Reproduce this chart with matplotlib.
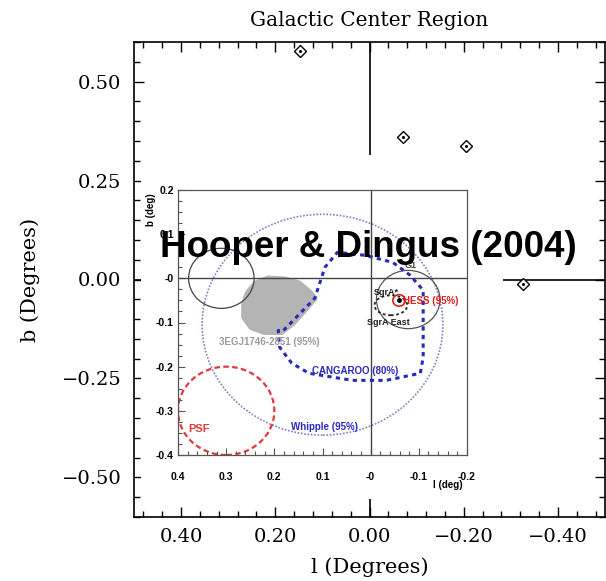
import numpy as np
import matplotlib.pyplot as plt
from matplotlib.patches import Circle, Ellipse, Polygon
from matplotlib.ticker import MultipleLocator, FixedLocator, FixedFormatter

# outer plot: diamond sources (galactic l, b in degrees)
src_l = [0.148, -0.072, -0.204, -0.325]
src_b = [0.578, 0.360, 0.337, -0.011]

# inset tick labels (as printed on the embedded figure)
inset_xticks = [0.4, 0.3, 0.2, 0.1, 0.0, -0.1, -0.2]
inset_xlabels = ["0.4", "0.3", "0.2", "0.1", "-0", "-0.1", "-0.2"]
inset_yticks = [0.2, 0.1, 0.0, -0.1, -0.2, -0.3, -0.4]
inset_ylabels = ["0.2", "0.1", "-0", "-0.1", "-0.2", "-0.3", "-0.4"]

# CANGAROO 80% contour
cang_l = [0.181, 0.116, 0.095, 0.069, 0.011, -0.046, -0.082, -0.109, -0.109,
          -0.109, -0.103, -0.032, 0.038, 0.128, 0.164, 0.189, 0.192, 0.181]
cang_b = [-0.118, -0.045, 0.025, 0.059, 0.052, 0.036, 0.007, -0.027, -0.118,
          -0.179, -0.215, -0.231, -0.231, -0.215, -0.192, -0.156, -0.118, -0.118]

# EGRET 3EG J1746-2851 95% region
egret_l = [0.238, 0.213, 0.179, 0.149, 0.126, 0.116, 0.137, 0.160, 0.185,
           0.221, 0.248, 0.263, 0.263, 0.255]
egret_b = [-0.011, 0.0, -0.002, -0.011, -0.032, -0.045, -0.072, -0.100, -0.122,
           -0.122, -0.111, -0.088, -0.057, -0.032]

# circles: (l, b, radius)
whipple = (0.100, -0.105, 0.250)
psf = (0.300, -0.300, 0.100)
left_src = (0.310, 0.000, 0.068)
g1 = (-0.078, -0.048, 0.066)
hess = (-0.059, -0.050, 0.013)
sgra_east = (-0.042, -0.061, 0.068, 0.045)  # l, b, width, height

W, H = 606, 581
fig = plt.figure(figsize=(W / 100, H / 100), dpi=100)

def fbox(x0, y0, x1, y1):
    # pixel box -> figure fraction [left, bottom, width, height]
    return [x0 / W, 1 - y1 / H, (x1 - x0) / W, (y1 - y0) / H]

serif = "DejaVu Serif"

# ---- outer axes ----
ax = fig.add_axes(fbox(134, 42, 605, 517))
ax.set_xlim(0.5, -0.5)
ax.set_ylim(-0.6, 0.6)
ax.axvline(0, color="black", lw=1.2)
ax.axhline(0, color="black", lw=1.2)
ax.plot(src_l, src_b, ls="none", marker="D", ms=6.5, mfc="white", mec="black", mew=1)
ax.plot(src_l, src_b, ls="none", marker="o", ms=1.2, color="black")

ax.xaxis.set_major_locator(FixedLocator([0.4, 0.2, 0.0, -0.2, -0.4]))
ax.xaxis.set_minor_locator(MultipleLocator(0.04))
ax.yaxis.set_major_locator(FixedLocator([0.5, 0.25, 0.0, -0.25, -0.5]))
ax.yaxis.set_minor_locator(MultipleLocator(0.05))
ax.xaxis.set_major_formatter(lambda v, p: f"{v:.2f}".replace("-", "\u2212"))
ax.yaxis.set_major_formatter(lambda v, p: f"{v:.2f}".replace("-", "\u2212"))
ax.tick_params(which="both", direction="in", top=True, right=True, width=1)
ax.tick_params(which="major", length=7)
ax.tick_params(which="minor", length=4)
ax.tick_params(axis="x", pad=8)
ax.tick_params(axis="y", pad=9)
for lab in ax.get_xticklabels() + ax.get_yticklabels():
    lab.set_fontfamily(serif)
    lab.set_fontsize(14)
for s in ax.spines.values():
    s.set_linewidth(1.2)
ax.set_xlabel("l (Degrees)", fontfamily=serif, fontsize=15)
ax.set_ylabel("b (Degrees)", fontfamily=serif, fontsize=15)
ax.xaxis.set_label_coords(0.5, -0.085)
ax.yaxis.set_label_coords(-0.2, 0.5)
fig.text(369 / W, 1 - 20 / H, "Galactic Center Region", fontfamily=serif,
         fontsize=14.5, ha="center", va="center")

# ---- embedded figure background ----
bg = fig.add_axes(fbox(141, 155, 503, 499), zorder=1)
bg.set_xticks([])
bg.set_yticks([])
for s in bg.spines.values():
    s.set_visible(False)

# ---- inset axes ----
ai = fig.add_axes(fbox(178, 190, 467, 455), zorder=2)
ai.set_xlim(0.4, -0.2)
ai.set_ylim(-0.4, 0.2)
ai.axvline(0, color="#444444", lw=1)
ai.axhline(0, color="#444444", lw=1)

ai.add_patch(Polygon(np.column_stack([egret_l, egret_b]), closed=True,
                     fc="#b4b4b4", ec="#b4b4b4", lw=4, joinstyle="round"))
ai.add_patch(Circle(whipple[:2], whipple[2], fill=False, ec="#7f7fc8", lw=1.2,
                    ls=(0, (1, 1))))
ai.plot(cang_l, cang_b, color="#2a2ab8", lw=2.2, ls=(0, (1.4, 1.4)))
ai.add_patch(Circle(psf[:2], psf[2], fill=False, ec="#e03a3a", lw=1.6,
                    ls=(0, (2.5, 1.5))))
ai.add_patch(Circle(left_src[:2], left_src[2], fill=False, ec="#444444", lw=0.9))
ai.add_patch(Circle(g1[:2], g1[2], fill=False, ec="#555555", lw=0.9))
ai.add_patch(Ellipse(sgra_east[:2], sgra_east[2], sgra_east[3], fill=False,
                     ec="#222222", lw=1.3, ls=(0, (1.5, 1.5))))
ai.add_patch(Circle(hess[:2], hess[2], fill=False, ec="#e02020", lw=1.2))
ai.plot([hess[0]], [hess[1]], marker="o", ms=2.5, color="black")

tb = dict(fontfamily="Liberation Sans", fontweight="bold")
ai.text(-0.084, 0.029, "G1", color="#444444", fontsize=6.5, ha="center", va="center", **tb)
ai.text(-0.032, -0.032, "SgrA*", color="#222222", fontsize=6.5, ha="center", va="center", **tb)
ai.text(-0.036, -0.100, "SgrA East", color="#222222", fontsize=6.5, ha="center", va="center", **tb)
ai.text(-0.067, -0.052, "HESS (95%)", color="#e02020", fontsize=7, ha="left", va="center", **tb)
ai.text(0.210, -0.145, "3EGJ1746-2851 (95%)", color="#9a9a9a", fontsize=7, ha="center", va="center", **tb)
ai.text(0.032, -0.210, "CANGAROO (80%)", color="#2a2ab8", fontsize=7, ha="center", va="center", **tb)
ai.text(0.095, -0.337, "Whipple (95%)", color="#2a2ac8", fontsize=7, ha="center", va="center", **tb)
ai.text(0.356, -0.340, "PSF", color="#e03a3a", fontsize=8, ha="center", va="center", **tb)

ai.xaxis.set_major_locator(FixedLocator(inset_xticks))
ai.xaxis.set_major_formatter(FixedFormatter(inset_xlabels))
ai.yaxis.set_major_locator(FixedLocator(inset_yticks))
ai.yaxis.set_major_formatter(FixedFormatter(inset_ylabels))
ai.xaxis.set_minor_locator(MultipleLocator(0.02))
ai.yaxis.set_minor_locator(MultipleLocator(0.025))
ai.tick_params(which="both", direction="in", color="#555555", width=0.8)
ai.tick_params(which="major", length=5)
ai.tick_params(which="minor", length=3)
ai.tick_params(axis="x", pad=12, labelsize=7.5)
ai.tick_params(axis="y", pad=3, labelsize=7.5)
for lab in ai.get_xticklabels() + ai.get_yticklabels():
    lab.set_fontfamily("Liberation Sans")
    lab.set_fontweight("bold")
for s in ai.spines.values():
    s.set_color("#555555")
    s.set_linewidth(0.9)
ai.text(0.934, -0.113, "l (deg)", transform=ai.transAxes, fontsize=7,
        ha="center", va="center", **tb)
ai.text(-0.093, 0.925, "b (deg)", transform=ai.transAxes, fontsize=7,
        rotation=90, ha="center", va="center", **tb)

# overlaid caption
fig.text(368.5 / W, 1 - 257 / H, "Hooper & Dingus (2004)", fontfamily="Liberation Sans",
         fontweight="bold", fontsize=26.5, ha="center", va="baseline", zorder=10)

fig.savefig("out.png", dpi=100)
